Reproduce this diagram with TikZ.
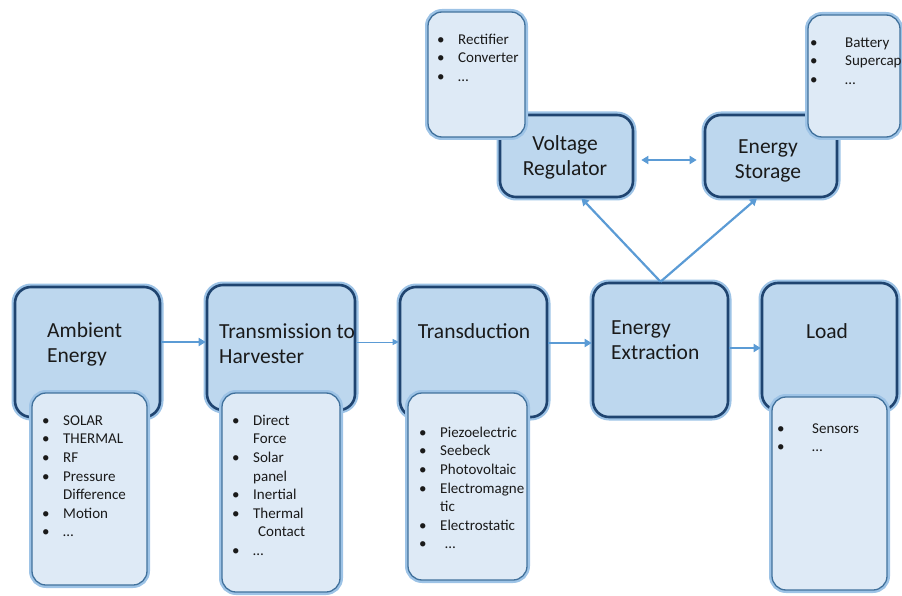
\documentclass[tikz,border=0pt]{standalone}
\usepackage{fontspec}
\setmainfont{Carlito}
\usetikzlibrary{arrows.meta}
\definecolor{mainfill}{HTML}{BDD7EE}
\definecolor{mainborder}{HTML}{1F4470}
\definecolor{glowc}{HTML}{9DC3E6}
\definecolor{subfill}{HTML}{DEEAF6}
\definecolor{subborder}{HTML}{41719C}
\definecolor{arrowc}{HTML}{5B9BD5}
\definecolor{txt}{HTML}{1A1A1A}
\newcommand{\bitem}[2][21pt]{\makebox[#1][l]{\textbullet}#2}
\newcommand{\citem}[2][21pt]{\hspace*{#1}#2}
\tikzset{
  mainbox/.style={preaction={draw=glowc, line width=7pt, rounded corners=16pt},
    draw=mainborder, line width=2.6pt, fill=mainfill, rounded corners=16pt, inner sep=0pt},
  subbox/.style={preaction={draw=glowc, line width=6pt, rounded corners=14pt},
    draw=subborder, line width=1.3pt, fill=subfill, rounded corners=14pt, inner sep=0pt},
  mlabel/.style={inner sep=0pt, text=txt, font=\fontsize{21.5}{25}\selectfont},
  lst/.style={inner sep=0pt, text=txt, align=left, anchor=north west, font=\fontsize{15}{18.6}\selectfont},
  arr/.style={draw=arrowc, line width=2.2pt, -{Triangle[length=7pt,width=8pt]}},
  thinarr/.style={draw=arrowc, line width=0.8pt, -{Triangle[length=6pt,width=6pt]}}
}
\begin{document}
\begin{tikzpicture}[x=1pt,y=-1pt]
\useasboundingbox (0,0) rectangle (902,596);
% main boxes
\node[mainbox, minimum width=145pt, minimum height=130pt] (ae) at (87.5,352) {};
\node[mainbox, minimum width=148pt, minimum height=125pt] (th) at (281,347.5) {};
\node[mainbox, minimum width=147pt, minimum height=130pt] (td) at (473.5,352) {};
\node[mainbox, minimum width=135pt, minimum height=134pt] (ee) at (660.5,350) {};
\node[mainbox, minimum width=135pt, minimum height=127pt] (ld) at (829.5,346.5) {};
\node[mainbox, minimum width=133pt, minimum height=82pt] (vr) at (566.5,156) {};
\node[mainbox, minimum width=132pt, minimum height=82pt] (es) at (771,156) {};
% sub boxes
\node[subbox, minimum width=115pt, minimum height=192pt] (aes) at (89.5,489) {};
\node[subbox, minimum width=118pt, minimum height=199pt] (ths) at (281,492.5) {};
\node[subbox, minimum width=119pt, minimum height=187pt] (tds) at (467.5,486.5) {};
\node[subbox, minimum width=115pt, minimum height=193pt] (lds) at (829.5,493.5) {};
\node[subbox, minimum width=97pt, minimum height=125pt] (vrs) at (476.5,74.5) {};
\node[subbox, minimum width=92pt, minimum height=122pt] (ess) at (854,76) {};
% main labels
\node[mlabel, anchor=west, align=left] (aet) at (47,344) {Ambient\\Energy};
\node[mlabel, anchor=west, align=left] (tht) at (219,344) {Transmission to\\Harvester};
\node[mlabel] (tdt) at (474,331) {Transduction};
\node[mlabel, anchor=west, align=left] (eet) at (611,340) {Energy\\Extraction};
\node[mlabel] (ldt) at (827,331) {Load};
\node[mlabel, align=center] (vrt) at (565,157) {Voltage\\Regulator};
\node[mlabel, align=center] (est) at (768,161) {Energy\\Storage};
% lists
\node[lst] (ael) at (42,414) {\rule{0pt}{11pt}\bitem{SOLAR}\\\bitem{THERMAL}\\\bitem{RF}\\\bitem{Pressure}\\\citem{Difference}\\\bitem{Motion}\\\bitem{\dots}};
\node[lst] (thl) at (232,414) {\rule{0pt}{11pt}\bitem{Direct}\\\citem{Force}\\\bitem{Solar}\\\citem{panel}\\\bitem{Inertial}\\\bitem{Thermal}\\\citem[26pt]{Contact}\\\bitem{\dots}};
\node[lst] (tdl) at (419,426) {\rule{0pt}{11pt}\bitem{Piezoelectric}\\\bitem{Seebeck}\\\bitem{Photovoltaic}\\\bitem{Electromagne}\\\citem{tic}\\\bitem{Electrostatic}\\\bitem{\hspace*{5pt}\dots}};
\node[lst] (ldl) at (777,422) {\rule{0pt}{11pt}\bitem[35pt]{Sensors}\\\bitem[35pt]{\dots}};
\node[lst] (vrl) at (437,33) {\rule{0pt}{11pt}\bitem{Rectifier}\\\bitem{Converter}\\\bitem{\dots}};
\node[lst] (esl) at (810,36) {\rule{0pt}{11pt}\bitem[35pt]{Battery}\\\bitem[35pt]{Supercap}\\\bitem[35pt]{\dots}};
% arrows
\draw[arr] ([yshift=10pt]ae.east) -- ([yshift=10pt]ae.east -| th.west);
\draw[thinarr] ([yshift=5.5pt]th.east) -- ([yshift=5.5pt]th.east -| td.west);
\draw[arr] ([yshift=9pt]td.east) -- ([yshift=9pt]td.east -| ee.west);
\draw[arr] ([yshift=2pt]ee.east) -- ([yshift=2pt]ee.east -| ld.west);
\draw[arr] (ee.north) -- ([xshift=15pt]vr.south);
\draw[arr] (ee.north) -- ([xshift=-14pt]es.south);
\draw[arr, {Triangle[length=7pt,width=8pt]}-{Triangle[length=7pt,width=8pt]}] ([xshift=7pt,yshift=-4pt]vr.east) -- ([xshift=-7pt,yshift=-4pt]es.west);
\end{tikzpicture}
\end{document}
